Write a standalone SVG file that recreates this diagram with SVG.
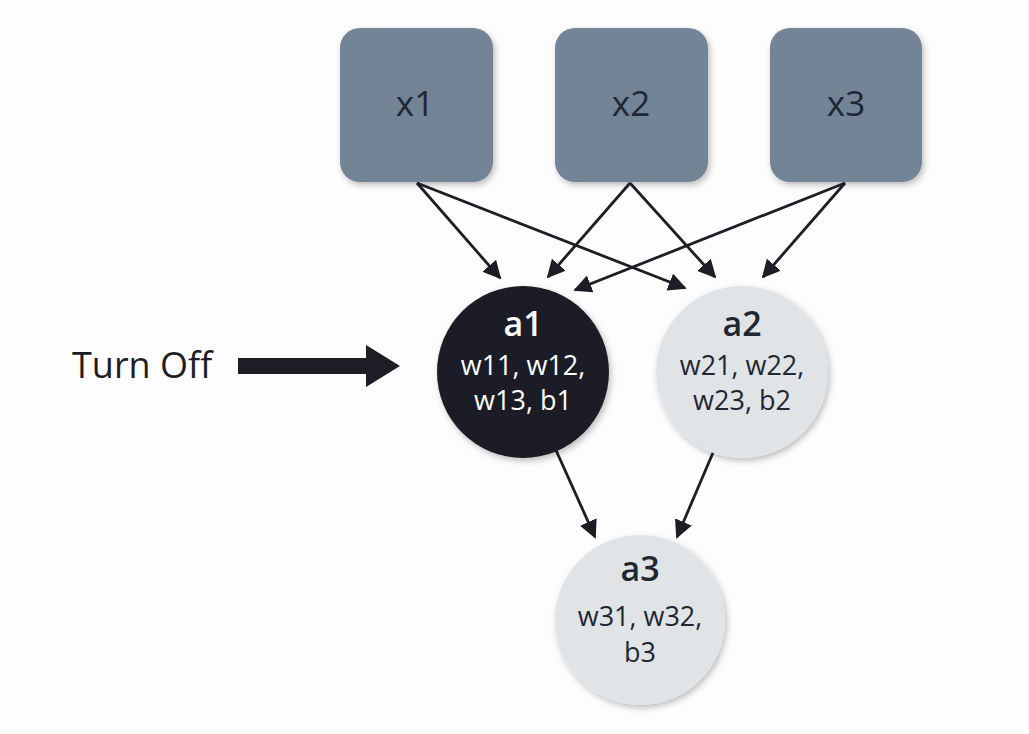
<svg xmlns="http://www.w3.org/2000/svg" width="1029" height="734" viewBox="0 0 1029 734">
<defs>
<marker id="ah" viewBox="0 0 10 10" refX="9" refY="5" markerWidth="6.5" markerHeight="6.5" markerUnits="strokeWidth" orient="auto">
<path d="M0,0 L10,5 L0,10 Z" fill="#1d1d26"/>
</marker>
<filter id="sh" x="-20%" y="-20%" width="140%" height="140%">
<feDropShadow dx="2" dy="3" stdDeviation="3" flood-color="#000" flood-opacity="0.25"/>
</filter>
</defs>
<style>
.box{fill:#728496;filter:url(#sh)}
.lt{fill:#e1e4e7;filter:url(#sh)}
.dk{fill:#1c1b27;filter:url(#sh)}
.t{font-family:"Open Sans","Noto Sans",sans-serif;text-anchor:middle;fill:#1f2733}
.x{font-size:35px}
.h{font-size:34px;font-weight:600}
.s{font-size:27px}
.w{fill:#ffffff}
.c{stroke:#1d1d26;stroke-width:2.8;fill:none;marker-end:url(#ah)}
</style>
<rect width="1029" height="734" fill="#fdfdfd"/>
<g id="x1"><rect class="box" x="340" y="28" width="153" height="154" rx="20"/><text class="t x" x="415" y="116">x1</text></g>
<g id="x2"><rect class="box" x="555" y="28" width="153" height="154" rx="20"/><text class="t x" x="631" y="116">x2</text></g>
<g id="x3"><rect class="box" x="770" y="28" width="152" height="154" rx="20"/><text class="t x" x="846" y="116">x3</text></g>
<g id="connectors">
<line class="c" x1="417" y1="183" x2="500" y2="278"/>
<line class="c" x1="417" y1="183" x2="685" y2="288"/>
<line class="c" x1="630" y1="183" x2="548" y2="277"/>
<line class="c" x1="630" y1="183" x2="715" y2="277"/>
<line class="c" x1="845" y1="183" x2="575" y2="290"/>
<line class="c" x1="845" y1="183" x2="763" y2="277"/>
<line class="c" x1="555" y1="448" x2="595" y2="537"/>
<line class="c" x1="715" y1="448" x2="677" y2="537"/>
</g>
<g id="a1"><circle class="dk" cx="523" cy="372" r="86"/><text class="t h w" x="523" y="336">a1</text><text class="t s w" x="523" y="375">w11, w12,</text><text class="t s w" x="523" y="410">w13, b1</text></g>
<g id="a2"><circle class="lt" cx="742" cy="372" r="86"/><text class="t h" x="742" y="336">a2</text><text class="t s" x="742" y="375">w21, w22,</text><text class="t s" x="742" y="410">w23, b2</text></g>
<g id="a3"><circle class="lt" cx="640" cy="620" r="85"/><text class="t h" x="640" y="581">a3</text><text class="t s" x="640" y="626">w31, w32,</text><text class="t s" x="640" y="662">b3</text></g>
<g id="turnoff"><text x="72" y="378" font-family="Open Sans, Noto Sans, sans-serif" font-size="36" fill="#1d1d26">Turn Off</text>
<path d="M238,358 L366,358 L366,345 L400,366 L366,387 L366,374 L238,374 Z" fill="#1d1d26"/></g>
</svg>
